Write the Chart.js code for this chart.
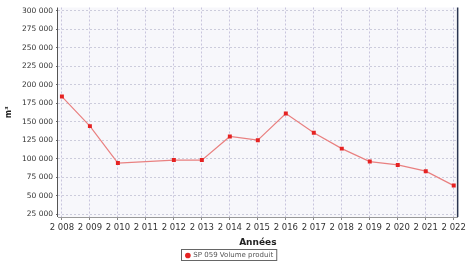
<!DOCTYPE html>
<html>
<head>
<meta charset="utf-8">
<script src="https://cdn.jsdelivr.net/npm/chart.js@4"></script>
<style>
  html, body { margin: 0; padding: 0; background: #fff; }
  #wrap { width: 469px; height: 269px; position: relative; }
</style>
</head>
<body>
<div id="wrap"><canvas id="volumeChart"></canvas></div>
<script>
const years = [2008, 2009, 2010, 2011, 2012, 2013, 2014, 2015, 2016, 2017, 2018, 2019, 2020, 2021, 2022];
const volumes = [184000, 144000, 94000, null, 98000, 98000, 130000, 125000, 161000, 135000, 113500, 96000, 91500, 83000, 63500];
const yTicks = [25000, 50000, 75000, 100000, 125000, 150000, 175000, 200000, 225000, 250000, 275000, 300000];
const seriesLabel = 'SP 059 Volume produit';

// thousands with a space, like the original ("2 008", "150 000")
function fmt(v) {
    return String(v).replace(/\B(?=(\d{3})+(?!\d))/g, ' ');
}

const plotBackground = {
    id: 'plotBackground',
    beforeDraw(chart) {
        const { ctx, chartArea: a } = chart;
        ctx.save();
        ctx.fillStyle = '#f7f7fb';
        ctx.fillRect(a.left, a.top, a.right - a.left, a.bottom - a.top);
        ctx.restore();
    },
    afterDraw(chart) {
        const { ctx, chartArea: a } = chart;
        ctx.save();
        // left axis line, right border
        ctx.strokeStyle = '#555';
        ctx.lineWidth = 1;
        ctx.beginPath();
        ctx.moveTo(a.left - 0.5, a.top);
        ctx.lineTo(a.left - 0.5, a.bottom);
        ctx.stroke();
        ctx.strokeStyle = '#2a3550';
        ctx.lineWidth = 1.5;
        ctx.beginPath();
        ctx.moveTo(a.right, a.top);
        ctx.lineTo(a.right, a.bottom);
        ctx.stroke();
        // box round the legend
        const lg = chart.legend;
        if (lg && lg.legendHitBoxes.length) {
            const b = lg.legendHitBoxes[0];
            ctx.strokeStyle = '#666';
            ctx.lineWidth = 1;
            ctx.strokeRect(Math.round(b.left) - 4.5, Math.round(b.top) - 2.5, b.width + 8, b.height + 4);
        }
        ctx.restore();
    }
};

function init() {
    const ctx = document.getElementById('volumeChart').getContext('2d');
    new Chart(ctx, {
        type: 'line',
        data: {
            datasets: [{
                label: seriesLabel,
                data: years.map((y, i) => ({ x: y, y: volumes[i] })),
                borderColor: '#e98080',
                borderWidth: 1.2,
                backgroundColor: '#e52222',
                pointStyle: 'rect',
                pointRadius: 2.8,
                pointBorderWidth: 0,
                spanGaps: true,
                tension: 0,
            }],
        },
        plugins: [plotBackground],
        options: {
            responsive: true,
            maintainAspectRatio: false,
            animation: false,
            layout: { padding: { top: 6, right: 10, left: 0, bottom: 0 } },
            scales: {
                x: {
                    type: 'linear',
                    min: 2007.86,
                    max: 2022.14,
                    afterBuildTicks: (scale) => { scale.ticks = years.map(v => ({ value: v })); },
                    afterFit: (scale) => { scale.height = 31; },
                    ticks: {
                        autoSkip: false,
                        maxRotation: 0,
                        padding: 3,
                        color: '#333',
                        font: { family: 'DejaVu Sans', size: 8.5 },
                        callback: (v) => fmt(v),
                    },
                    grid: {
                        color: 'rgba(175,170,205,0.65)',
                        tickColor: '#888',
                        tickLength: 3,
                    },
                    border: { color: '#999', dash: [2, 2] },
                    title: {
                        display: true,
                        text: 'Années',
                        color: '#222',
                        padding: 0,
                        font: { family: 'DejaVu Sans', size: 9, weight: 'bold' },
                    },
                },
                y: {
                    min: 21000,
                    max: 304500,
                    afterBuildTicks: (scale) => { scale.ticks = yTicks.map(v => ({ value: v })); },
                    afterFit: (scale) => { scale.width = 58; },
                    ticks: {
                        padding: 3,
                        color: '#333',
                        font: { family: 'DejaVu Sans', size: 7.5 },
                        callback: (v) => fmt(v),
                    },
                    grid: {
                        color: 'rgba(175,175,200,0.6)',
                        tickColor: '#666',
                        tickLength: 2,
                    },
                    border: { display: false, dash: [2, 2] },
                    title: {
                        display: true,
                        text: 'm³',
                        color: '#222',
                        padding: { top: 4, bottom: 0 },
                        font: { family: 'DejaVu Sans', size: 8, weight: 'bold' },
                    },
                },
            },
            plugins: {
                legend: {
                    position: 'bottom',
                    labels: {
                        usePointStyle: true,
                        pointStyle: 'circle',
                        boxWidth: 4,
                        boxHeight: 4,
                        padding: 4,
                        color: '#555',
                        font: { family: 'DejaVu Sans', size: 7 },
                    },
                },
                tooltip: { enabled: false },
            },
        },
    });
}

window.onload = init;
</script>
</body>
</html>
